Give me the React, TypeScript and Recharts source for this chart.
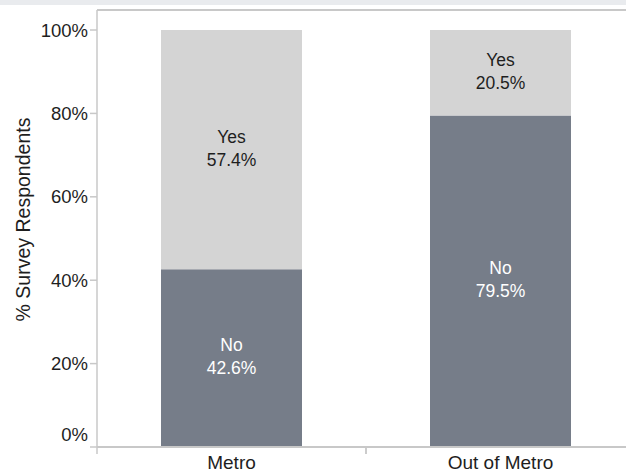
import { BarChart, Bar, XAxis, YAxis, LabelList, ReferenceLine } from 'recharts';

const categories = ['Metro', 'Out of Metro'];
const noValues = [42.6, 79.5];
const yesValues = [57.4, 20.5];
const yTicks = [0, 20, 40, 60, 80, 100];

const data = categories.map((name, i) => ({ name, No: noValues[i], Yes: yesValues[i] }));

const FONT = '"Liberation Sans", Arial, sans-serif';
const AXIS = '#c8c8c8';

const makeLabel = (series: string, color: string) => (props: any) => {
  const { x, y, width, height, value } = props;
  const cx = x + width / 2;
  const cy = y + height / 2;
  return (
    <g>
      <text x={cx} y={cy - 7} textAnchor="middle" fill={color} fontSize={17.5} fontFamily={FONT}>
        {series}
      </text>
      <text x={cx} y={cy + 16} textAnchor="middle" fill={color} fontSize={17.5} fontFamily={FONT}>
        {value.toFixed(1)}%
      </text>
    </g>
  );
};

const ValueTick = (props: any) => {
  const { x, y, payload } = props;
  // the 0% label sits a bit above its tick, as in the original
  const shift = payload.value === 0 ? -13 : 0;
  return (
    <text x={x} y={y + shift} dy="0.36em" textAnchor="end" fill="#1e1e1e" fontSize={18.5} fontFamily={FONT}>
      {payload.value}%
    </text>
  );
};

const CategoryTick = (props: any) => {
  const { x, y, payload } = props;
  const left = x - payload.offset;
  const top = y - 8;
  return (
    <g>
      <line x1={left} y1={top} x2={left} y2={top + 7} stroke={AXIS} strokeWidth={1.5} />
      <line x1={left + 2 * payload.offset} y1={top} x2={left + 2 * payload.offset} y2={top + 7} stroke={AXIS} strokeWidth={1.5} />
      <text x={x} y={y + 14} textAnchor="middle" fill="#1e1e1e" fontSize={19} fontFamily={FONT}>
        {payload.value}
      </text>
    </g>
  );
};

export default function App() {
  return (
    <div style={{ position: 'absolute', left: 0, top: 0, width: 626, height: 474, overflow: 'hidden', background: '#fff' }}>
      <div style={{ position: 'absolute', left: 0, top: 0, width: 626, height: 5, background: '#e9ebee' }} />
      <BarChart
        width={640}
        height={474}
        data={data}
        margin={{ top: 10, right: 5, bottom: 0, left: 0 }}
      >
        <XAxis
          dataKey="name"
          height={27}
          axisLine={{ stroke: AXIS, strokeWidth: 2 }}
          tickLine={false}
          tick={<CategoryTick />}
          interval={0}
        />
        <YAxis
          type="number"
          domain={[0, 104.8]}
          ticks={yTicks}
          width={97}
          allowDataOverflow
          tick={<ValueTick />}
          tickSize={7}
          tickMargin={2}
          axisLine={{ stroke: AXIS, strokeWidth: 1.5 }}
          tickLine={{ stroke: AXIS, strokeWidth: 1.5 }}
          label={{
            value: '% Survey Respondents',
            angle: -90,
            position: 'insideLeft',
            dx: 18,
            dy: -9,
            style: { fill: '#1e1e1e', fontSize: 19.5, fontFamily: FONT, textAnchor: 'middle' },
          }}
        />
        <ReferenceLine y={104.8} stroke={AXIS} strokeWidth={2} />
        <Bar dataKey="No" stackId="a" fill="#767d89" barSize={141} isAnimationActive={false}>
          <LabelList dataKey="No" content={makeLabel('No', '#ffffff')} />
        </Bar>
        <Bar dataKey="Yes" stackId="a" fill="#d4d4d4" barSize={141} isAnimationActive={false}>
          <LabelList dataKey="Yes" content={makeLabel('Yes', '#1e1e1e')} />
        </Bar>
      </BarChart>
    </div>
  );
}
